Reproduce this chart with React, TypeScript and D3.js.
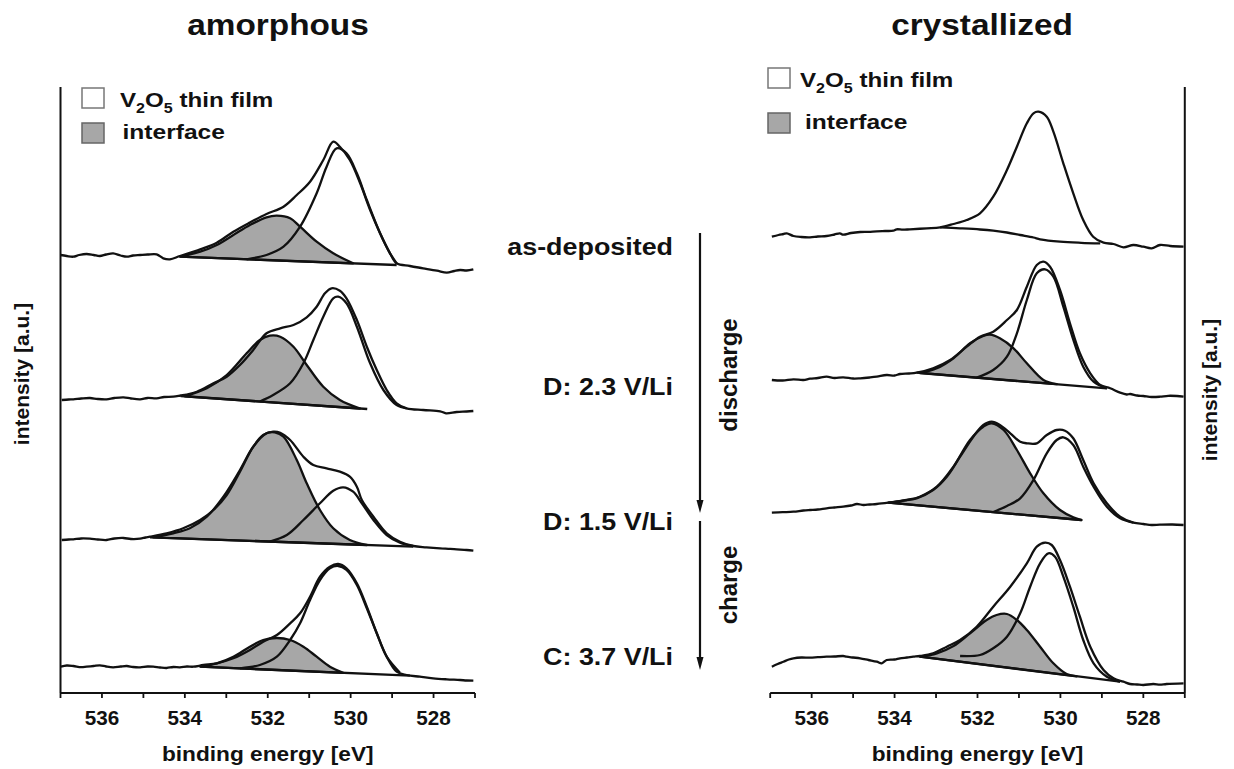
import React from 'react';
import * as d3 from 'd3';

type P = [number, number];

// ---------- axis / labels ----------
const ENERGY_DOMAIN: [number, number] = [537, 527];
const ALL_TICKS = [537, 536, 535, 534, 533, 532, 531, 530, 529, 528, 527];
const MAJOR_TICKS = [536, 534, 532, 530, 528];
const PANEL_TITLES = ['amorphous', 'crystallized'];
const STATE_LABELS = ['as-deposited', 'D: 2.3 V/Li', 'D: 1.5 V/Li', 'C: 3.7 V/Li'];
const PROCESS_LABELS = ['discharge', 'charge'];
const X_LABEL = 'binding energy [eV]';
const Y_LABEL = 'intensity [a.u.]';

// stack offsets (a.u.)
const AMORPHOUS_OFFSETS = [423, 281, 143, 13];
const CRYSTAL_OFFSETS = [446, 296, 168, 8];

// ---------- amorphous: as-deposited ----------
const amData1: P[] = [[537.0,15],[536.85,14],[536.69,13.3],[536.55,15],[536.37,16],[536.2,15],[536.05,14],[535.9,15.5],[535.73,16.7],[535.55,14.5],[535.4,13.3],[535.25,14.5],[535.08,15],[534.9,15.5],[534.68,15.7],[534.52,11.7],[534.36,10.7],[534.12,14],[533.63,20.7],[533.23,27.3],[532.83,38.3],[532.43,47.5],[532.03,56],[531.62,63.3],[531.3,75],[530.98,88.3],[530.66,110],[530.42,128.3],[530.26,123.3],[530.02,110],[529.77,86.7],[529.53,60],[529.29,36.7],[529.05,16.7],[528.89,6.7],[528.57,4],[528.25,1.7],[527.92,-0.7],[527.68,-2.7],[527.5,-1],[527.36,0],[527.2,-0.5],[527.04,0.7]];
const amIface1: P[] = [[534.12,13.3],[533.63,18.3],[533.23,25],[532.83,35],[532.43,45],[532.03,52.7],[531.78,54.3],[531.46,51.7],[531.22,43.3],[530.82,28.3],[530.42,16.7],[529.94,6.7]];
const amV2O5_1: P[] = [[532.51,10.7],[532.03,15],[531.62,23.3],[531.22,43.3],[530.82,76.7],[530.58,103.3],[530.34,121.7],[530.1,116.7],[529.85,96.7],[529.61,70],[529.29,36.7],[529.05,16.7],[528.89,6.7]];
const amBg1: P[] = [[534.12,13.3],[528.89,5]];

// ---------- amorphous: D 2.3 V ----------
const amData2: P[] = [[536.97,12],[536.8,12.5],[536.69,12.7],[536.5,13.5],[536.29,14],[536.1,13],[535.89,12.7],[535.7,14],[535.48,14.7],[535.3,13.5],[535.08,12.7],[534.9,14],[534.68,13.7],[534.5,15],[534.28,15.3],[534.1,16.5],[533.96,17.5],[533.71,20.3],[533.31,28.7],[532.99,35.3],[532.67,47],[532.35,62],[532.03,78.7],[531.7,83.7],[531.38,87],[531.06,94.7],[530.82,105.3],[530.62,118.7],[530.46,123.7],[530.26,121.3],[530.1,113.7],[529.85,92],[529.61,65.3],[529.37,42],[529.13,22],[528.89,8.7],[528.65,3.7],[528.25,2],[527.84,0.7],[527.7,-1.3],[527.44,0],[527.2,0.5],[527.04,1]];
const amIface2: P[] = [[534.0,15.7],[533.47,23.7],[532.99,37],[532.51,58.7],[532.19,72],[531.95,76.3],[531.7,75.3],[531.38,65.3],[531.06,47],[530.66,25.3],[530.26,12],[529.77,3.5]];
const amV2O5_2: P[] = [[532.19,10.5],[531.87,17],[531.46,28.7],[531.14,48.7],[530.9,72],[530.66,95.3],[530.42,113.7],[530.3,115.3],[530.1,108.7],[529.85,85.3],[529.53,48.7],[529.21,22],[528.89,7],[528.65,3.7]];
const amBg2: P[] = [[534.1,16],[529.6,3]];

// ---------- amorphous: D 1.5 V ----------
const amData3: P[] = [[536.97,10],[536.8,10.5],[536.69,10.7],[536.5,11.5],[536.29,11.3],[536.1,10.5],[535.89,10],[535.7,11.5],[535.48,12],[535.3,11],[535.08,11.3],[534.95,12.5],[534.84,13.3],[534.44,16.7],[534.04,21.7],[533.63,30],[533.31,40],[532.99,55],[532.67,78.3],[532.35,103.3],[532.11,115],[531.87,118.3],[531.7,117.3],[531.46,110],[531.14,93.3],[530.9,85],[530.58,81.7],[530.26,78.3],[530.02,73.3],[529.85,63.3],[529.73,50],[529.45,33.3],[529.13,16.7],[528.81,8.3],[528.49,4],[528.17,2.7],[527.84,1.7],[527.6,1.2],[527.44,0.7],[527.2,0],[527.04,-0.7]];
const amIface3: P[] = [[534.76,12.6],[534.28,16.7],[533.88,21.7],[533.47,33.3],[533.07,53.3],[532.67,80],[532.35,103.3],[532.03,116.7],[531.83,117.7],[531.62,113.3],[531.3,90],[531.06,66.7],[530.74,40],[530.42,21.7],[530.02,10],[529.61,5]];
const amV2O5_3: P[] = [[531.95,8.4],[531.54,15],[531.14,30],[530.74,46.7],[530.42,59.3],[530.18,62.7],[529.94,58.3],[529.73,46.7],[529.45,30],[529.13,15],[528.81,7.3],[528.49,4]];
const amBg3: P[] = [[534.84,12.7],[528.49,3.3]];

// ---------- amorphous: C 3.7 V ----------
const amData4: P[] = [[536.99,13.3],[536.85,14.5],[536.69,14],[536.5,12.8],[536.37,13.3],[536.2,14],[536.05,14.7],[535.9,13.5],[535.73,12.7],[535.55,13.5],[535.4,14],[535.25,13],[535.08,12.7],[534.9,13.5],[534.76,13.3],[534.6,12.5],[534.44,12],[534.28,13],[534.12,12.7],[533.95,13.5],[533.8,13.3],[533.55,15],[533.23,16.7],[532.83,21.7],[532.43,30],[532.11,38.3],[531.78,45],[531.46,56.7],[531.22,66.7],[530.98,83.3],[530.74,103.3],[530.5,113.3],[530.3,116],[530.1,111.7],[529.85,96.7],[529.61,73.3],[529.37,46.7],[529.13,23.3],[528.89,8.3],[528.65,5],[528.33,3.3],[528.01,1.7],[527.68,0.7],[527.36,0],[527.2,-0.5],[527.04,-0.7]];
const amIface4: P[] = [[533.63,13.3],[533.23,16.7],[532.83,23.3],[532.43,33.3],[532.11,40],[531.78,42],[531.46,40],[531.14,33.3],[530.82,23.3],[530.5,13.3],[530.18,7.2]];
const amV2O5_4: P[] = [[532.67,11.6],[532.19,15],[531.78,23.3],[531.46,40],[531.22,56.7],[530.98,80],[530.74,100],[530.5,111.7],[530.3,114],[530.1,110],[529.85,95],[529.61,71.7],[529.37,46.7],[529.13,23.3],[528.81,7.3]];
const amBg4: P[] = [[533.63,13.3],[528.57,4.3]];

// ---------- crystallized: as-deposited ----------
const crData1: P[] = [[536.96,10.3],[536.8,12],[536.68,13],[536.6,13.7],[536.44,11],[536.25,10],[536.04,9.7],[535.85,10.5],[535.64,11],[535.45,12.5],[535.32,13.7],[535.24,12.3],[535.05,14],[534.83,15],[534.63,15.2],[534.43,15.7],[534.23,16],[534.03,16.3],[533.95,17.7],[533.8,17.3],[533.63,17.7],[533.22,18.7],[532.9,19.7],[532.58,23],[532.26,27],[531.94,33.7],[531.62,50.3],[531.29,77],[531.05,100.3],[530.81,123.7],[530.65,133.7],[530.53,135.3],[530.33,130.3],[530.17,115.3],[529.93,83.7],[529.69,53.7],[529.45,27],[529.21,10.3],[528.96,4.3],[528.72,3],[528.48,-0.3],[528.24,2],[528.0,0.3],[527.8,-1.3],[527.6,2],[527.35,1],[527.03,0.3]];
const crBg1: P[] = [[532.9,19.7],[532.42,18.7],[531.94,17.5],[531.62,16.3],[531.29,14.5],[530.97,12],[530.65,9.5],[530.49,7.7],[530.01,5.3],[529.5,4.2],[529.04,3.7]];

// ---------- crystallized: D 2.3 V ----------
const crData2: P[] = [[536.96,17],[536.7,16.5],[536.44,17.7],[536.2,17],[536.04,18.3],[535.85,19],[535.64,20.3],[535.45,19],[535.24,19.7],[535.0,18.5],[534.83,18.7],[534.6,19.5],[534.43,20.3],[534.19,22],[534.0,21.5],[533.87,23],[533.65,23.5],[533.47,24.3],[533.07,28.7],[532.66,37],[532.26,50.3],[531.94,60.3],[531.62,65.3],[531.29,77],[531.05,87],[530.81,110.3],[530.57,132],[530.41,135.3],[530.25,130.3],[530.01,107],[529.77,73.7],[529.53,43.7],[529.28,23.7],[529.04,12],[528.8,8.7],[528.56,4.3],[528.4,2.5],[528.32,3],[528.15,1.5],[528.0,1],[527.8,0],[527.6,0.3],[527.4,1.2],[527.19,1],[527.03,0.3]];
const crIface2: P[] = [[533.39,24],[532.98,28.7],[532.58,38.7],[532.18,53.7],[531.86,61],[531.7,62.3],[531.46,58.7],[531.13,48.7],[530.81,33.7],[530.41,17],[530.09,12.8]];
const crV2O5_2: P[] = [[532.02,19.4],[531.62,27],[531.29,40.3],[531.05,63.7],[530.81,97],[530.57,123.7],[530.37,127.7],[530.17,120.3],[529.93,90.3],[529.69,57.3],[529.45,30.3],[529.2,15.3],[528.88,8.7]];
const crBg2: P[] = [[533.47,24.3],[528.88,8.7]];

// ---------- crystallized: D 1.5 V ----------
const crData3: P[] = [[536.96,12.3],[536.7,12.8],[536.44,13.3],[536.2,14.5],[536.04,15],[535.85,15.5],[535.64,16.7],[535.45,17.5],[535.24,18.3],[535.05,19.5],[534.91,21],[534.75,20],[534.6,20.5],[534.43,21],[534.15,22.3],[533.79,24.3],[533.47,26.7],[533.07,35],[532.74,48.3],[532.42,68.3],[532.1,88.3],[531.86,100],[531.66,103.3],[531.46,100],[531.21,91.7],[530.97,83.3],[530.81,81.7],[530.57,81.7],[530.33,90],[530.09,95],[529.89,94.3],[529.69,86.7],[529.45,65],[529.2,41.7],[528.88,21.7],[528.56,8.3],[528.24,2.3],[528.0,1],[527.8,0],[527.6,0.3],[527.3,0.5],[527.03,0]];
const crIface3: P[] = [[534.15,22.3],[533.71,25],[533.39,28.3],[532.98,38.3],[532.58,58.3],[532.18,85],[531.86,98.3],[531.66,101.7],[531.37,95],[531.05,75],[530.73,51.7],[530.41,31.7],[530.01,15],[529.69,7.7],[529.49,5]];
const crV2O5_3: P[] = [[531.62,13],[531.29,19],[530.97,26.7],[530.65,45],[530.33,71.7],[530.09,85],[529.93,87.7],[529.69,80],[529.45,58.3],[529.2,38.3],[528.88,18.3],[528.56,6.7],[528.24,2.3]];
const crBg3: P[] = [[534.15,22.3],[529.49,5]];

// ---------- crystallized: C 3.7 V ----------
const crData4: P[] = [[536.96,18.3],[536.82,21],[536.68,23.3],[536.55,25.5],[536.44,26.7],[536.25,27.5],[536.04,27.3],[535.85,27.8],[535.64,28.3],[535.45,28.5],[535.24,29],[535.16,28.3],[535.0,27.5],[534.83,26.7],[534.63,25],[534.43,23.3],[534.31,21.7],[534.19,25],[534.0,25.5],[533.87,26.7],[533.7,27.5],[533.55,28.3],[533.39,29],[533.07,31.7],[532.74,38.3],[532.42,45],[532.02,58.3],[531.62,78.3],[531.21,98.3],[530.81,121.7],[530.57,138.3],[530.37,142.3],[530.21,140],[530.01,125],[529.77,98.3],[529.53,68.3],[529.28,38.3],[528.96,15],[528.72,6.7],[528.48,3.3],[528.32,1],[528.15,0.5],[528.0,0],[527.76,1],[527.6,0.3],[527.44,1],[527.03,1.7]];
const crIface4: P[] = [[533.39,28.3],[532.98,31.7],[532.58,39],[532.18,51.7],[531.78,65],[531.54,70],[531.29,71],[531.05,65],[530.81,55],[530.49,38.3],[530.17,21.7],[529.85,11],[529.61,8.7]];
const crV2O5_4: P[] = [[532.42,29],[531.94,30],[531.62,36.7],[531.29,48.3],[530.97,71.7],[530.73,98.3],[530.49,121.7],[530.29,131.7],[530.13,128.3],[529.93,108.3],[529.69,78.3],[529.45,45],[529.2,21.7],[528.88,8.3],[528.56,3.3]];
const crBg4: P[] = [[533.39,28.3],[528.56,3.3]];

interface Spec { data: P[]; iface?: P[]; v2o5?: P[]; bg: P[] }

const amorphous: Spec[] = [
  { data: amData1, iface: amIface1, v2o5: amV2O5_1, bg: amBg1 },
  { data: amData2, iface: amIface2, v2o5: amV2O5_2, bg: amBg2 },
  { data: amData3, iface: amIface3, v2o5: amV2O5_3, bg: amBg3 },
  { data: amData4, iface: amIface4, v2o5: amV2O5_4, bg: amBg4 },
];
const crystallized: Spec[] = [
  { data: crData1, bg: crBg1 },
  { data: crData2, iface: crIface2, v2o5: crV2O5_2, bg: crBg2 },
  { data: crData3, iface: crIface3, v2o5: crV2O5_3, bg: crBg3 },
  { data: crData4, iface: crIface4, v2o5: crV2O5_4, bg: crBg4 },
];

// ---------- styling ----------
const INK = '#111';
const GRAY = '#a7a7a7';
const FONT = '"Liberation Sans", Arial, Helvetica, sans-serif';
const AXIS_Y = 693;
const TOP_Y = 87;

const yScale = d3.scaleLinear().domain([0, 606]).range([AXIS_Y, TOP_Y]);

function T(props: { x: number; y: number; size: number; sx?: number; anchor?: string; rotate?: number; children: React.ReactNode }) {
  const { x, y, size, sx = 1, anchor = 'start', rotate = 0, children } = props;
  return (
    <text
      transform={`translate(${x},${y}) rotate(${rotate}) scale(${sx},1)`}
      fontSize={size}
      textAnchor={anchor}
      fontWeight="bold"
      fontFamily={FONT}
      fill={INK}
    >
      {children}
    </text>
  );
}

function Spectrum({ s, offset, x }: { s: Spec; offset: number; x: d3.ScaleLinear<number, number> }) {
  const smooth = d3
    .line<P>()
    .x((d) => x(d[0]))
    .y((d) => yScale(d[1] + offset))
    .curve(d3.curveCatmullRom.alpha(0.5));
  const straight = d3
    .line<P>()
    .x((d) => x(d[0]))
    .y((d) => yScale(d[1] + offset));
  const sw = 2.3;
  return (
    <g>
      {s.iface && <path d={(smooth(s.iface) || '') + 'Z'} fill={GRAY} stroke={INK} strokeWidth={sw} strokeLinejoin="round" />}
      <path d={(s.bg.length > 2 ? smooth(s.bg) : straight(s.bg)) || ''} fill="none" stroke={INK} strokeWidth={sw} />
      {s.v2o5 && <path d={smooth(s.v2o5) || ''} fill="none" stroke={INK} strokeWidth={sw} strokeLinejoin="round" />}
      <path d={smooth(s.data) || ''} fill="none" stroke={INK} strokeWidth={sw} strokeLinejoin="round" />
    </g>
  );
}

function XAxis({ x }: { x: d3.ScaleLinear<number, number> }) {
  const [r0, r1] = x.range();
  return (
    <g>
      <line x1={r0} x2={r1} y1={AXIS_Y} y2={AXIS_Y} stroke={INK} strokeWidth={2} />
      {ALL_TICKS.map((t) => (
        <line key={t} x1={x(t)} x2={x(t)} y1={AXIS_Y} y2={AXIS_Y + 5} stroke={INK} strokeWidth={1.8} />
      ))}
      {MAJOR_TICKS.map((t) => (
        <T key={t} x={x(t)} y={725} size={19.5} sx={1.06} anchor="middle">
          {String(t)}
        </T>
      ))}
      <T x={(r0 + r1) / 2} y={761} size={21} sx={1.08} anchor="middle">
        {X_LABEL}
      </T>
    </g>
  );
}

function Legend({ x, y1, y2, tx1, tx2 }: { x: number; y1: number; y2: number; tx1: number; tx2: number }) {
  return (
    <g>
      <rect x={x} y={y1} width={22} height={20} fill="#fff" stroke="#777" strokeWidth={1.5} />
      <T x={tx1} y={y1 + 18.5} size={21} sx={1.15}>
        V<tspan fontSize={14} dy={6}>2</tspan>
        <tspan dy={-6}>O</tspan>
        <tspan fontSize={14} dy={6}>5</tspan>
        <tspan dy={-6}> thin film</tspan>
      </T>
      <rect x={x} y={y2} width={22} height={20} fill={GRAY} stroke="#666" strokeWidth={1.5} />
      <T x={tx2} y={y2 + 16} size={21} sx={1.17}>
        interface
      </T>
    </g>
  );
}

export default function App() {
  const xL = d3.scaleLinear().domain(ENERGY_DOMAIN).range([60.5, 475]);
  const xR = d3.scaleLinear().domain(ENERGY_DOMAIN).range([770.2, 1184.8]);
  const stateY = [255, 395, 530, 665];

  return (
    <svg width={1234} height={769} style={{ position: 'absolute', left: 0, top: 0, background: '#fff' }}>
      <rect x={0} y={0} width={1234} height={769} fill="#fff" />

      {/* titles */}
      <T x={278} y={35} size={29} sx={1.15} anchor="middle">{PANEL_TITLES[0]}</T>
      <T x={982} y={35} size={29} sx={1.15} anchor="middle">{PANEL_TITLES[1]}</T>

      {/* left panel */}
      {amorphous.map((s, i) => (
        <Spectrum key={i} s={s} offset={AMORPHOUS_OFFSETS[i]} x={xL} />
      ))}
      <line x1={60.5} x2={60.5} y1={TOP_Y} y2={AXIS_Y} stroke={INK} strokeWidth={2} />
      <XAxis x={xL} />
      <T x={29} y={374} size={21} anchor="middle" rotate={-90}>{Y_LABEL}</T>
      <Legend x={82} y1={88} y2={123} tx1={120} tx2={122.5} />

      {/* right panel */}
      {crystallized.map((s, i) => (
        <Spectrum key={i} s={s} offset={CRYSTAL_OFFSETS[i]} x={xR} />
      ))}
      <line x1={1184.8} x2={1184.8} y1={TOP_Y} y2={AXIS_Y} stroke={INK} strokeWidth={2} />
      <XAxis x={xR} />
      <T x={1217} y={390} size={21} anchor="middle" rotate={-90}>{Y_LABEL}</T>
      <Legend x={768} y1={68} y2={113} tx1={800} tx2={805} />

      {/* middle annotations */}
      {STATE_LABELS.map((l, i) => (
        <T key={l} x={673} y={stateY[i]} size={24} sx={1.12} anchor="end">{l}</T>
      ))}
      <line x1={700} x2={700} y1={233} y2={502} stroke={INK} strokeWidth={2.2} />
      <path d="M696.5,500 L703.5,500 L700,513 Z" fill={INK} />
      <line x1={700} x2={700} y1={521} y2={659} stroke={INK} strokeWidth={2.2} />
      <path d="M696.5,657 L703.5,657 L700,670 Z" fill={INK} />
      <T x={737} y={375} size={24} anchor="middle" rotate={-90}>{PROCESS_LABELS[0]}</T>
      <T x={737} y={585} size={24} anchor="middle" rotate={-90}>{PROCESS_LABELS[1]}</T>
    </svg>
  );
}
